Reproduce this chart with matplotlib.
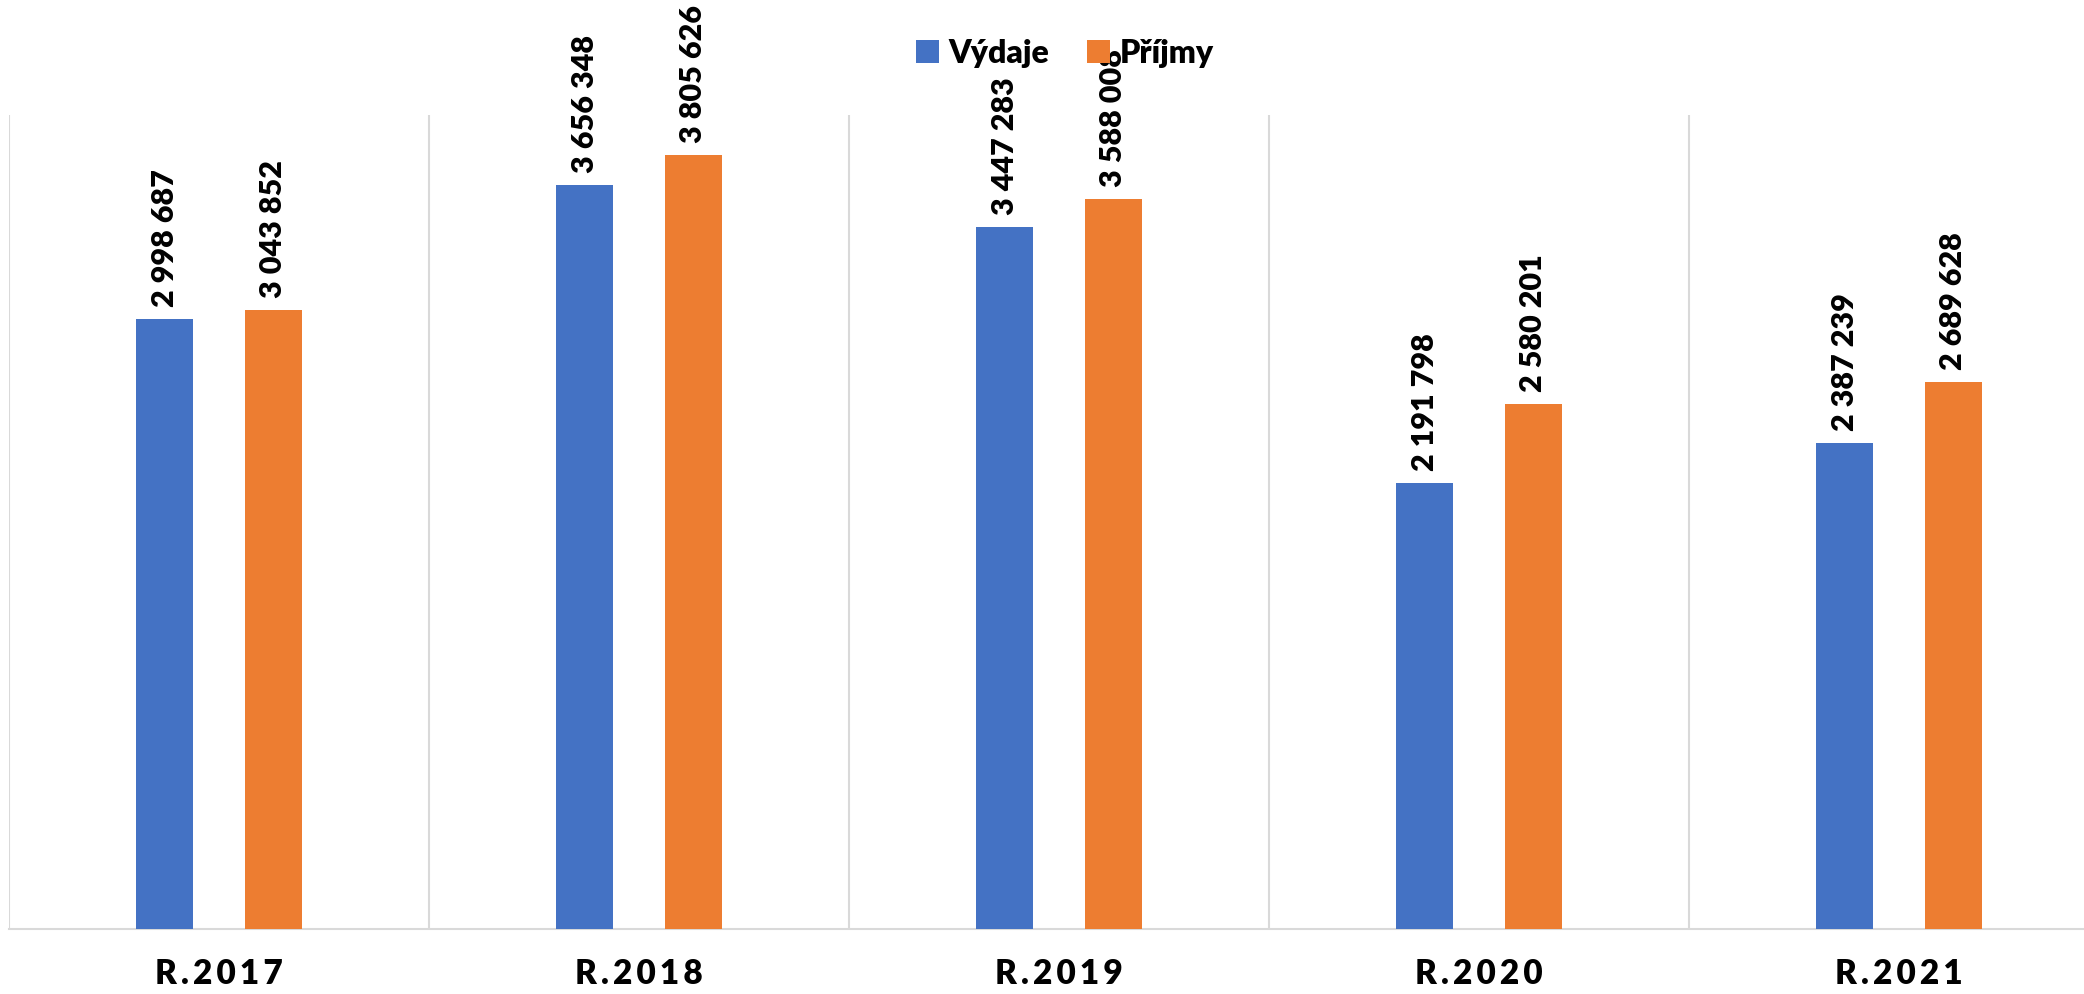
import matplotlib
matplotlib.use("Agg")
import matplotlib.pyplot as plt
import numpy as np

# data
years = ["R.2017", "R.2018", "R.2019", "R.2020", "R.2021"]
vydaje = [2998687, 3656348, 3447283, 2191798, 2387239]
prijmy = [3043852, 3805626, 3588008, 2580201, 2689628]

blue = "#4472C4"
orange = "#ED7D31"
grid = "#D9D9D9"

plt.rcParams["font.family"] = ["Lato", "DejaVu Sans"]
plt.rcParams["font.weight"] = "bold"

fig = plt.figure(figsize=(20.84, 9.94), dpi=100)
# the plot area runs a little past the right edge, as in the reference
ax = fig.add_axes([9 / 2084, 65 / 994, 2100 / 2084, 814 / 994])

x = np.arange(len(years))
w = 0.136
off = 0.129
b1 = ax.bar(x - off, vydaje, w, color=blue, label="Výdaje", zorder=3)
b2 = ax.bar(x + off, prijmy, w, color=orange, label="Příjmy", zorder=3)


def fmt(v):
    return f"{v:,}".replace(",", " ")


for bars, vals in [(b1, vydaje), (b2, prijmy)]:
    for rect, v in zip(bars, vals):
        ax.annotate(fmt(v), (rect.get_x() + rect.get_width() / 2, v),
                    xytext=(0, 12), textcoords="offset pixels",
                    rotation=90, ha="center", va="bottom",
                    fontsize=22, fontweight="heavy", color="black")

# category separators
for s in np.arange(-0.5, len(years), 1.0):
    ax.axvline(s, color=grid, lw=1.5, zorder=1)

ax.set_xlim(-0.5, len(years) - 0.5)
ax.set_ylim(0, 4000000)
ax.set_yticks([])
ax.set_xticks(x)
# the reference spaces the letters of the year labels a little
ax.set_xticklabels(["\u2009".join(y) for y in years], fontsize=24,
                   fontweight="heavy")
ax.tick_params(axis="x", length=0, pad=21)
for side in ["top", "left", "right"]:
    ax.spines[side].set_visible(False)
ax.spines["bottom"].set_color(grid)
ax.spines["bottom"].set_linewidth(1.5)

fig.legend(loc="center", bbox_to_anchor=(1065 / 2084, 1 - 53 / 994),
           ncol=2, frameon=False, handlelength=0.7,
           handleheight=0.7, handletextpad=0.3, columnspacing=1.2,
           prop={"weight": "heavy", "size": 23})

fig.savefig("out.png", dpi=100)
